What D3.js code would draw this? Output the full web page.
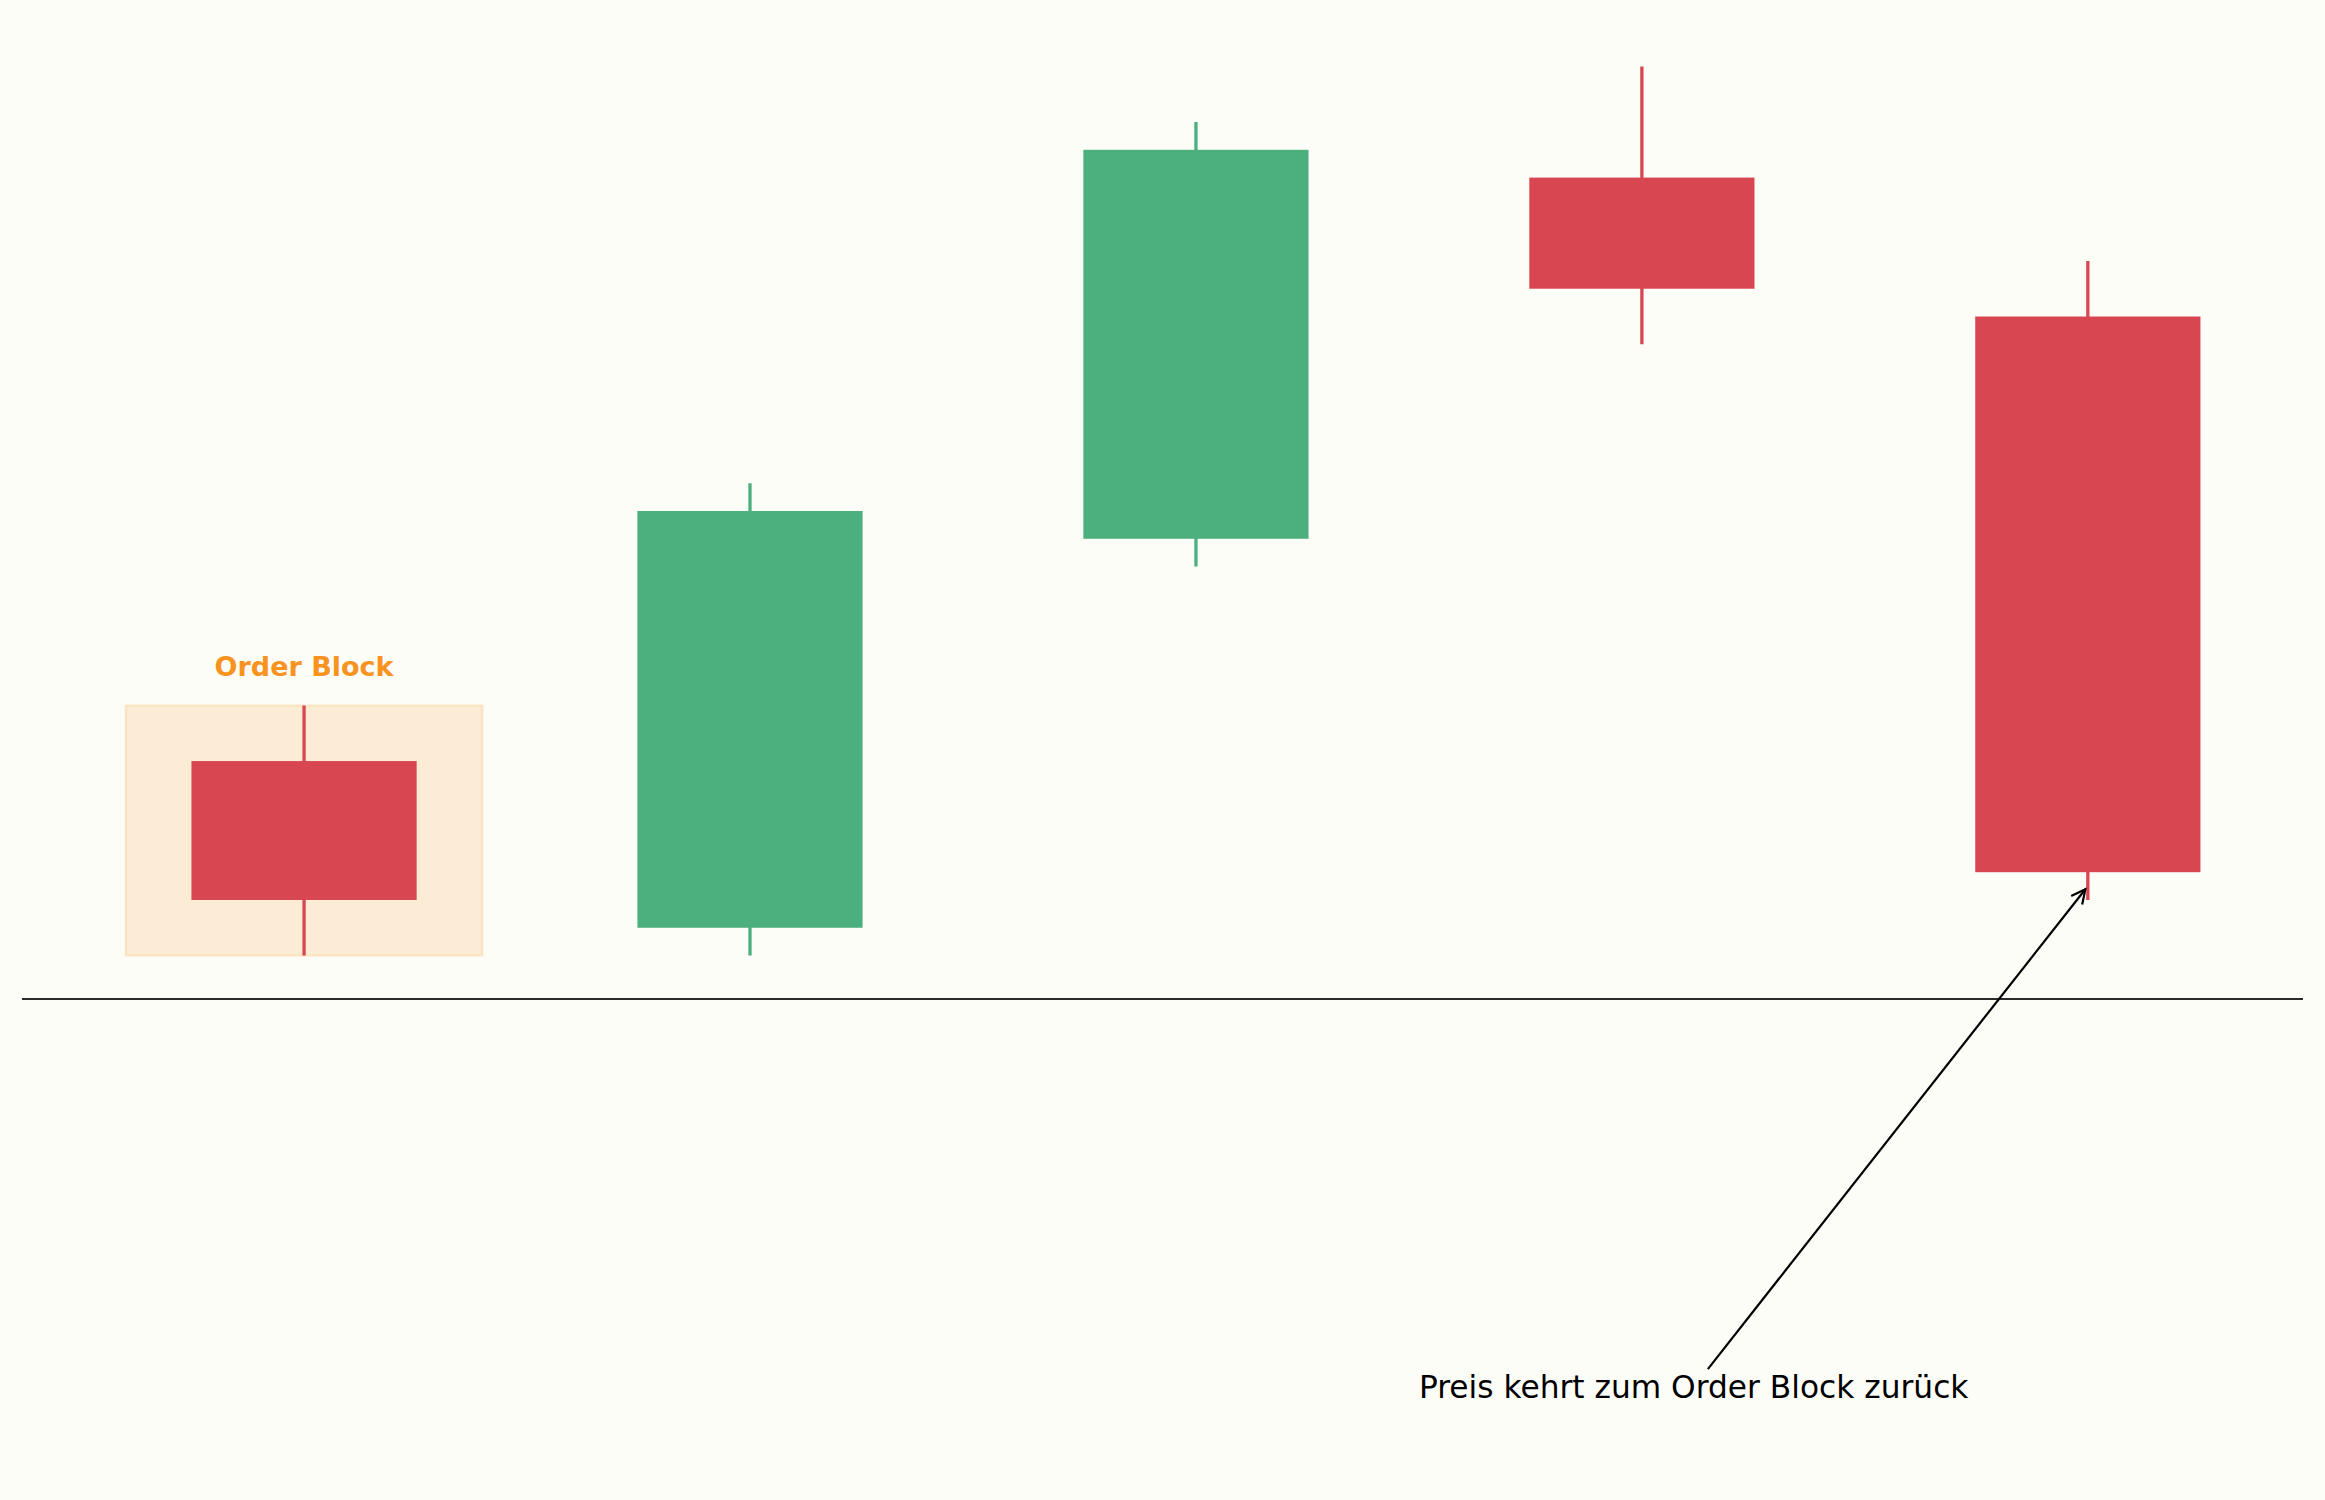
<!DOCTYPE html>
<html>
<head>
<meta charset="utf-8">
<script src="https://cdn.jsdelivr.net/npm/d3@7"></script>
<style>
  html, body { margin: 0; padding: 0; background: #fdfdf8; }
  svg { display: block; }
</style>
</head>
<body>
<svg id="chart"></svg>
<script>
"use strict"

// candle data (price units, order block candle low = 0)
const candleIndex = [0, 1, 2, 3, 4]
const opens  = [7, 1, 15, 28, 23]
const closes = [2, 16, 29, 24, 3]
const highs  = [9, 17, 30, 32, 25]
const lows   = [0, 0, 14, 22, 2]

// order block zone around the first candle
const orderBlockIndex = 0
const orderBlockLabel = "Order Block"
const orderBlockLabelY = 10

// annotation
const noteText = "Preis kehrt zum Order Block zurück"
const notePoint = [4, 2.5]
const noteTextPos = [2.5, -16]

const width = 2325
const height = 1500
const red = "#d84651"
const green = "#4caf7e"
const orange = "#f7931e"
const bodyWidth = 0.505
const blockHalf = 0.4

const svg = d3.select("#chart")
  .attr("width", width)
  .attr("height", height)

svg.append("rect")
  .attr("width", width).attr("height", height)
  .attr("fill", "#fdfdf8")

const x = d3.scaleLinear().domain([-0.6325, 4.4825]).range([22, 2303])
const y = d3.scaleLinear().domain([-1.6, 33.6]).range([1000, 22])

const candles = candleIndex.map(i => ({
  i: i, open: opens[i], close: closes[i], high: highs[i], low: lows[i],
  color: closes[i] >= opens[i] ? green : red
}))

// order block shading
svg.append("rect")
  .attr("x", x(orderBlockIndex - blockHalf))
  .attr("y", y(highs[orderBlockIndex]))
  .attr("width", x(orderBlockIndex + blockHalf) - x(orderBlockIndex - blockHalf))
  .attr("height", y(lows[orderBlockIndex]) - y(highs[orderBlockIndex]))
  .attr("fill", orange)
  .attr("fill-opacity", 0.16)
  .attr("stroke", orange)
  .attr("stroke-opacity", 0.15)
  .attr("stroke-width", 2.5)

svg.append("text")
  .attr("x", x(orderBlockIndex))
  .attr("y", y(orderBlockLabelY) - 2)
  .attr("text-anchor", "middle")
  .attr("font-family", "DejaVu Sans")
  .attr("font-weight", "bold")
  .attr("font-size", 27)
  .attr("fill", orange)
  .text(orderBlockLabel)

// bottom spine
svg.append("line")
  .attr("x1", x.range()[0]).attr("x2", x.range()[1])
  .attr("y1", y(-1.6) - 1).attr("y2", y(-1.6) - 1)
  .attr("stroke", "#2b2b2b")
  .attr("stroke-width", 2.1)

const g = svg.append("g")

g.selectAll("line.wick")
  .data(candles)
  .enter().append("line")
    .attr("class", "wick")
    .attr("x1", d => x(d.i)).attr("x2", d => x(d.i))
    .attr("y1", d => y(d.high)).attr("y2", d => y(d.low))
    .attr("stroke", d => d.color)
    .attr("stroke-width", 3.3)

g.selectAll("rect.body")
  .data(candles)
  .enter().append("rect")
    .attr("class", "body")
    .attr("x", d => x(d.i - bodyWidth / 2))
    .attr("width", d => x(d.i + bodyWidth / 2) - x(d.i - bodyWidth / 2))
    .attr("y", d => y(Math.max(d.open, d.close)))
    .attr("height", d => Math.abs(y(d.open) - y(d.close)))
    .attr("fill", d => d.color)

// annotation text + arrow
const note = svg.append("text")
  .attr("x", x(noteTextPos[0]))
  .attr("y", y(noteTextPos[1]) - 2)
  .attr("font-family", "DejaVu Sans")
  .attr("font-size", 31.25)
  .attr("fill", "#000")
  .text(noteText)

const bb = note.node().getBBox()
const cx = bb.x + bb.width / 2
const cy = bb.y + bb.height / 2
const px = x(notePoint[0])
const py = y(notePoint[1])
// start where the line from text centre meets the top of the text box
const t = (bb.y - cy) / (py - cy)
const sx = cx + t * (px - cx)
const sy = bb.y
const len = Math.hypot(px - sx, py - sy)
const ux = (px - sx) / len
const uy = (py - sy) / len
const tipX = px - ux * 4
const tipY = py - uy * 4

svg.append("line")
  .attr("x1", sx).attr("y1", sy)
  .attr("x2", tipX).attr("y2", tipY)
  .attr("stroke", "#000")
  .attr("stroke-width", 2.2)

const headLen = 14
const headW = 7
const bx = tipX - ux * headLen
const by = tipY - uy * headLen
svg.append("path")
  .attr("d", `M${bx - uy * headW},${by + ux * headW} L${tipX},${tipY} L${bx + uy * headW},${by - ux * headW}`)
  .attr("fill", "none")
  .attr("stroke", "#000")
  .attr("stroke-width", 2.2)
</script>
</body>
</html>
